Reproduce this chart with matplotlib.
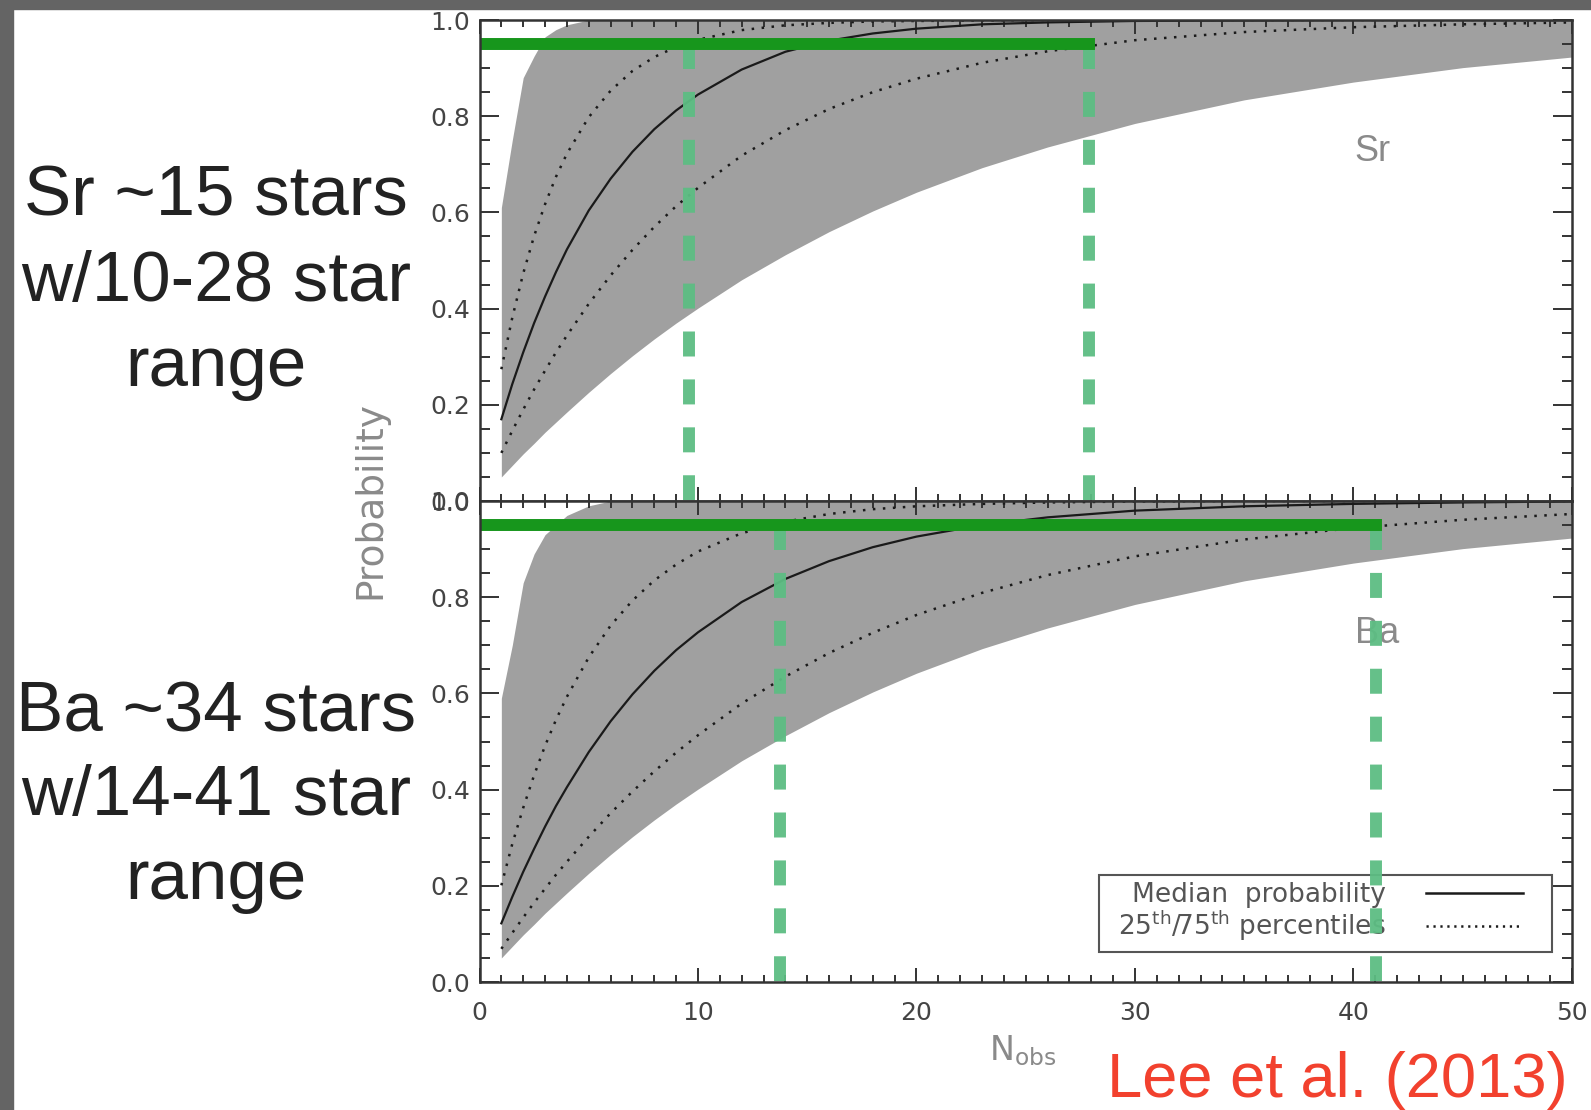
import matplotlib.pyplot as plt
from matplotlib.lines import Line2D
from matplotlib.patches import Rectangle
from matplotlib.ticker import MultipleLocator

plt.rcParams['font.family'] = ['Liberation Sans', 'DejaVu Sans']
plt.rcParams['mathtext.fontset'] = 'dejavusans'
plt.rcParams['mathtext.default'] = 'regular'
plt.rcParams['lines.scale_dashes'] = False

n_obs = [1, 1.5, 2, 2.5, 3, 3.5, 4, 5, 6, 7, 8, 9, 10, 12, 14, 16, 18, 20, 23, 26, 30, 35, 40, 45, 50]

sr_min = [0.050, 0.074, 0.098, 0.120, 0.143, 0.164, 0.185, 0.226, 0.265, 0.302, 0.337, 0.370, 0.401,
          0.460, 0.512, 0.560, 0.603, 0.642, 0.693, 0.736, 0.785, 0.834, 0.871, 0.901, 0.923]
sr_max = [0.61, 0.75, 0.88, 0.925, 0.965, 0.98, 0.99, 1.0, 1.0, 1.0, 1.0, 1.0, 1.0,
          1.0, 1.0, 1.0, 1.0, 1.0, 1.0, 1.0, 1.0, 1.0, 1.0, 1.0, 1.0]
sr_med = [0.170, 0.243, 0.309, 0.370, 0.425, 0.476, 0.523, 0.604, 0.670, 0.726, 0.773, 0.812, 0.845,
          0.897, 0.934, 0.957, 0.972, 0.982, 0.991, 0.995, 0.998, 0.999, 1.0, 1.0, 1.0]
sr_p25 = [0.100, 0.146, 0.190, 0.232, 0.271, 0.309, 0.344, 0.410, 0.469, 0.522, 0.570, 0.613, 0.651,
          0.718, 0.771, 0.815, 0.850, 0.878, 0.911, 0.935, 0.958, 0.975, 0.985, 0.991, 0.995]
sr_p75 = [0.274, 0.381, 0.473, 0.551, 0.617, 0.674, 0.722, 0.798, 0.853, 0.894, 0.923, 0.944, 0.959,
          0.979, 0.989, 0.994, 0.997, 0.998, 0.999, 1.0, 1.0, 1.0, 1.0, 1.0, 1.0]

ba_min = [0.050, 0.074, 0.098, 0.120, 0.143, 0.164, 0.185, 0.226, 0.265, 0.302, 0.337, 0.370, 0.401,
          0.460, 0.512, 0.560, 0.603, 0.642, 0.693, 0.736, 0.785, 0.834, 0.871, 0.901, 0.923]
ba_max = [0.59, 0.70, 0.83, 0.89, 0.93, 0.95, 0.97, 0.99, 1.0, 1.0, 1.0, 1.0, 1.0,
          1.0, 1.0, 1.0, 1.0, 1.0, 1.0, 1.0, 1.0, 1.0, 1.0, 1.0, 1.0]
ba_med = [0.122, 0.177, 0.229, 0.277, 0.323, 0.366, 0.405, 0.478, 0.542, 0.598, 0.647, 0.690, 0.727,
          0.790, 0.838, 0.875, 0.904, 0.926, 0.950, 0.966, 0.980, 0.989, 0.994, 0.997, 0.999]
ba_p25 = [0.069, 0.102, 0.134, 0.165, 0.194, 0.223, 0.250, 0.302, 0.351, 0.396, 0.438, 0.477, 0.513,
          0.579, 0.635, 0.684, 0.726, 0.763, 0.809, 0.846, 0.885, 0.920, 0.944, 0.961, 0.973]
ba_p75 = [0.201, 0.287, 0.362, 0.430, 0.491, 0.545, 0.593, 0.675, 0.741, 0.793, 0.835, 0.868, 0.895,
          0.933, 0.957, 0.973, 0.983, 0.989, 0.994, 0.997, 0.999, 1.0, 1.0, 1.0, 1.0]

level = 0.95
sr_range = [9.6, 27.9]
ba_range = [13.75, 41.05]

sr_text = ['Sr ~15 stars', 'w/10-28 star', 'range']
ba_text = ['Ba ~34 stars', 'w/14-41 star', 'range']

W, H = 1591, 1110
fig = plt.figure(figsize=(W / 100, H / 100), dpi=100)

# dark slide frame on left / top
fig.patches.append(Rectangle((0, 0), 13 / W, 1, transform=fig.transFigure,
                             color='#646464', zorder=0))
fig.patches.append(Rectangle((0, 1 - 9 / H), 1, 9 / H, transform=fig.transFigure,
                             color='#646464', zorder=0))

left, width = 479.5 / W, (1572 - 479.5) / W
ph = (501 - 20) / H
ax_top = fig.add_axes([left, 1 - 501 / H, width, ph])
ax_bot = fig.add_axes([left, 1 - 982 / H, width, ph])

gray = '#a0a0a0'
green = '#17961c'
lgreen = '#5dbd83'
ink = '#1a1a1a'
dots = (0, (1.8, 5.4))

panels = [
    (ax_top, 'Sr', sr_min, sr_max, sr_med, sr_p25, sr_p75, sr_range, (40.85, 0.726)),
    (ax_bot, 'Ba', ba_min, ba_max, ba_med, ba_p25, ba_p75, ba_range, (41.07, 0.724)),
]

for ax, name, lo, hi, med, p25, p75, rng, lab in panels:
    ax.fill_between(n_obs, lo, hi, color=gray, lw=0, zorder=1)
    ax.plot(n_obs, med, color=ink, lw=1.6, zorder=3)
    ax.plot(n_obs, p25, color=ink, lw=1.8, ls=dots, zorder=3)
    ax.plot(n_obs, p75, color=ink, lw=1.8, ls=dots, zorder=3)
    ax.text(lab[0], lab[1], name, ha='center', va='center', fontsize=26,
            color='#8a8a8a', zorder=2)

    for xv in rng:
        ax.plot([xv, xv], [level, 0], color=lgreen, lw=8.6, ls=(0, (18, 16.5)),
                dash_capstyle='butt', zorder=6, alpha=0.95)
    ax.plot([0, rng[1]], [level, level], color=green, lw=8.6,
            solid_capstyle='projecting', zorder=7)

    ax.set_xlim(0, 50)
    ax.set_ylim(0, 1)
    ax.xaxis.set_major_locator(MultipleLocator(10))
    ax.xaxis.set_minor_locator(MultipleLocator(1))
    ax.yaxis.set_major_locator(MultipleLocator(0.2))
    ax.yaxis.set_minor_locator(MultipleLocator(0.05))
    ax.tick_params(which='both', direction='in', top=True, right=True,
                   color='#333333', labelcolor='#444444', labelsize=18, width=1.4)
    ax.tick_params(axis='y', which='major', length=14, pad=7)
    ax.tick_params(axis='y', which='minor', length=7)
    ax.tick_params(axis='x', which='major', length=10, pad=14)
    ax.tick_params(axis='x', which='minor', length=5)
    for tl in ax.get_xticklabels() + ax.get_yticklabels():
        tl.set_family('DejaVu Sans')
    for sp in ax.spines.values():
        sp.set_linewidth(1.8)
        sp.set_color('#333333')
        sp.set_zorder(8)

ax_top.tick_params(labelbottom=False)

# legend box (frame drawn separately so its padding matches the original)
ax_bot.add_patch(Rectangle((0.567, 0.062), 0.415, 0.160, transform=ax_bot.transAxes,
                           facecolor='white', edgecolor='#555555', lw=1.5, zorder=4))
handles = [Line2D([], [], color=ink, lw=1.8),
           Line2D([], [], color=ink, lw=1.8, ls=(0, (1.6, 3.4)))]
labels = ['Median  probability', '25$^{th}$/75$^{th}$ percentiles']
leg = ax_bot.legend(handles, labels, markerfirst=False, loc='center right',
                    bbox_to_anchor=(0.962, 0.1435), borderaxespad=0, frameon=False,
                    prop={'family': 'DejaVu Sans', 'size': 19}, labelcolor='#555555',
                    handlelength=3.67, handletextpad=1.5, labelspacing=0.02, borderpad=0.3)
leg.set_zorder(5)

fig.text(370 / W, 1 - 500 / H, 'Probability', rotation=90, ha='center', va='center',
         fontsize=27, color='#8a8a8a', family='DejaVu Sans')
fig.text(989 / W, 1 - 1060 / H, 'N$_{obs}$', ha='left', va='baseline',
         fontsize=24, color='#8a8a8a', family='DejaVu Sans')

for i, line in enumerate(sr_text):
    fig.text(216 / W, 1 - (216 + 85 * i) / H, line, ha='center', va='baseline',
             fontsize=51, color='#222222')
for i, line in enumerate(ba_text):
    fig.text(216 / W, 1 - (731 + 84 * i) / H, line, ha='center', va='baseline',
             fontsize=51, color='#222222')

fig.text(1568 / W, 1 - 1097 / H, 'Lee et al. (2013)', ha='right', va='baseline',
         fontsize=45.5, color='#f2412e')

fig.savefig('out.png', dpi=100)
